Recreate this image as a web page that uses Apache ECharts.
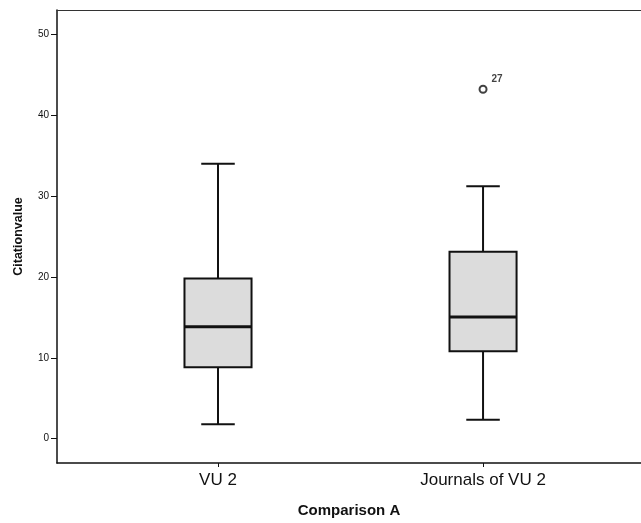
<!DOCTYPE html>
<html>
<head>
<meta charset="utf-8">
<script src="https://cdn.jsdelivr.net/npm/echarts@6/dist/echarts.min.js"></script>
<style>
  html, body { margin: 0; padding: 0; background: #fff; }
  #chart { width: 641px; height: 523px; }
</style>
</head>
<body>
<div id="chart"></div>
<script>
// categories on the x axis (placed at index 0, 1)
const categories = ['VU 2', 'Journals of VU 2'];
// box plot statistics
const whiskerLow = [1.8, 2.35];
const quartile1 = [8.85, 10.8];
const medians = [13.85, 15.05];
const quartile3 = [19.8, 23.1];
const whiskerHigh = [34.0, 31.2];
// outliers: [category index, value, case label]
const outliers = [[1, 43.2, '27']];
const yTicks = [0, 10, 20, 30, 40, 50];

const FONT = '"Liberation Sans", Arial, sans-serif';
const INK = '#111';

const boxData = categories.map((c, i) => [i, whiskerLow[i], quartile1[i], medians[i], quartile3[i], whiskerHigh[i]]);

function renderBox(params, api) {
  const x = api.value(0);
  const lo = api.coord([x, api.value(1)]);
  const q1 = api.coord([x, api.value(2)]);
  const med = api.coord([x, api.value(3)]);
  const q3 = api.coord([x, api.value(4)]);
  const hi = api.coord([x, api.value(5)]);
  const bw = api.size([0.253, 0])[0];
  const cw = bw / 2;
  const cx = lo[0];
  const line = { stroke: INK, lineWidth: 2 };
  return {
    type: 'group',
    children: [
      { type: 'line', shape: { x1: cx, y1: hi[1], x2: cx, y2: q3[1] }, style: line },
      { type: 'line', shape: { x1: cx, y1: q1[1], x2: cx, y2: lo[1] }, style: line },
      { type: 'line', shape: { x1: cx - cw / 2, y1: hi[1], x2: cx + cw / 2, y2: hi[1] }, style: line },
      { type: 'line', shape: { x1: cx - cw / 2, y1: lo[1], x2: cx + cw / 2, y2: lo[1] }, style: line },
      { type: 'rect', shape: { x: cx - bw / 2, y: q3[1], width: bw, height: q1[1] - q3[1] },
        style: { fill: '#dcdcdc', stroke: INK, lineWidth: 2 } },
      { type: 'line', shape: { x1: cx - bw / 2, y1: med[1], x2: cx + bw / 2, y2: med[1] },
        style: { stroke: INK, lineWidth: 3 } }
    ]
  };
}

const chart = echarts.init(document.getElementById('chart'));
chart.setOption({
  animation: false,
  backgroundColor: '#fff',
  grid: { left: 57, right: 0, top: 10, bottom: 59 },
  xAxis: [
    {
      type: 'value',
      min: -0.6075,
      max: 1.596,
      splitLine: { show: false },
      axisLine: { show: true, onZero: false, lineStyle: { color: INK, width: 1.5 } },
      axisTick: { show: true, length: 4, customValues: [0, 1], lineStyle: { color: INK } },
      axisLabel: {
        customValues: [0, 1],
        formatter: v => categories[Math.round(v)],
        color: INK, fontFamily: FONT, fontSize: 17, margin: 9
      },
      name: 'Comparison A',
      nameLocation: 'middle',
      nameGap: 40,
      nameTextStyle: { color: INK, fontFamily: FONT, fontSize: 15, fontWeight: 'bold' }
    },
    {
      // top frame line only
      type: 'value',
      position: 'top',
      min: -0.6075,
      max: 1.596,
      splitLine: { show: false },
      axisLine: { show: true, onZero: false, lineStyle: { color: '#333', width: 1 } },
      axisTick: { show: false },
      axisLabel: { show: false }
    }
  ],
  yAxis: {
    type: 'value',
    min: -3,
    max: 53,
    splitLine: { show: false },
    axisLine: { show: true, onZero: false, lineStyle: { color: INK, width: 1.5 } },
    axisTick: { show: true, length: 6, customValues: yTicks, lineStyle: { color: INK } },
    axisLabel: {
      customValues: yTicks,
      color: INK, fontFamily: FONT, fontSize: 10, margin: 8
    },
    name: 'Citationvalue',
    nameLocation: 'middle',
    nameGap: 32,
    nameTextStyle: { color: INK, fontFamily: FONT, fontSize: 12.5, fontWeight: 'bold' }
  },
  series: [
    {
      type: 'custom',
      renderItem: renderBox,
      encode: { x: 0, y: [1, 2, 3, 4, 5] },
      data: boxData,
      z: 3
    },
    {
      type: 'scatter',
      data: outliers,
      symbol: 'emptyCircle',
      symbolSize: 7,
      itemStyle: { color: INK, borderColor: INK, borderWidth: 1.5 },
      label: {
        show: true,
        formatter: p => p.data[2],
        position: 'right',
        offset: [-1, -10],
        color: INK, fontFamily: FONT, fontSize: 10, fontWeight: 'bold'
      },
      z: 4
    }
  ]
});
</script>
</body>
</html>
